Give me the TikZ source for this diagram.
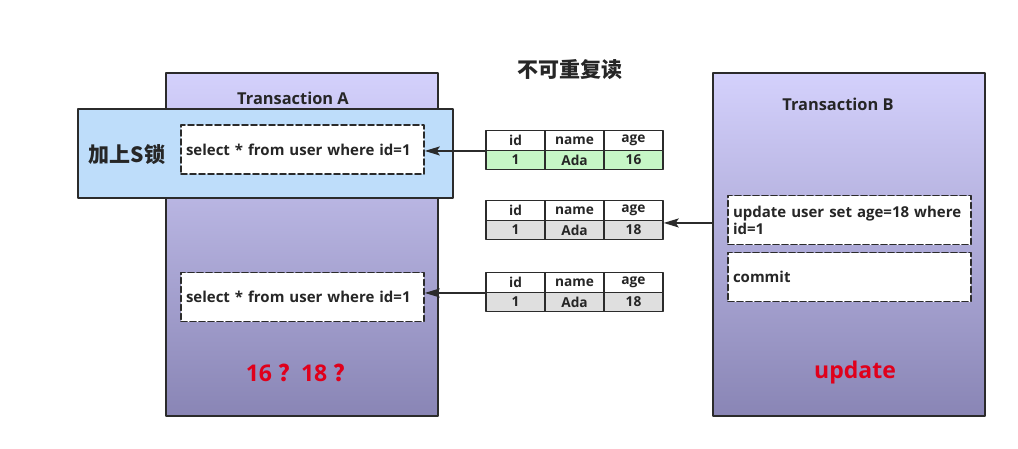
\documentclass[tikz,border=0pt]{standalone}
\usepackage{fontspec}
\setmainfont{Open Sans}
\newfontfamily\cjk{Noto Sans CJK SC}
\usetikzlibrary{calc,arrows.meta}
\definecolor{ink}{HTML}{262626}
\definecolor{edge}{HTML}{2B2B2B}
\definecolor{txtop}{HTML}{D4D1FC}
\definecolor{txbot}{HTML}{8985B5}
\definecolor{lockblue}{HTML}{BEDDFA}
\definecolor{rowgreen}{HTML}{C6F6C6}
\definecolor{rowgray}{HTML}{DFDFDF}
\definecolor{alert}{HTML}{E0001B}
\tikzset{
  every picture/.style={line cap=round, line join=round},
  txbox/.style={draw=edge, line width=1.6pt, top color=txtop, bottom color=txbot,
    minimum width=272pt, minimum height=343pt, inner sep=0pt},
  lockbox/.style={draw=edge, line width=1.5pt, fill=lockblue,
    minimum width=375pt, minimum height=89pt, inner sep=0pt},
  sqlbox/.style={draw=edge, dashed, dash pattern=on 6pt off 3pt, line width=1.6pt, fill=white,
    minimum width=243pt, minimum height=49pt, inner sep=5pt, text width=233pt, align=left,
    text=ink, font=\fontsize{15}{17}\selectfont\bfseries},
  cell/.style={draw=edge, line width=1.4pt, fill=white, minimum width=59pt, minimum height=19.5pt,
    inner sep=0pt, text=ink, font=\fontsize{13.7}{14}\selectfont\bfseries},
  lab/.style={text=ink, font=\fontsize{16.4}{18}\selectfont\bfseries},
  big/.style={text=ink, font=\fontsize{21}{24}\selectfont\cjk\bfseries},
  hot/.style={text=alert, font=\fontsize{23}{26}\selectfont\bfseries},
  conn/.style={draw=edge, line width=1.6pt, -{Stealth[length=15pt,width=9pt,inset=3pt]}}
}
% one small table: name, y of header, age, row colour
\newcommand{\DataTable}[4]{%
  \foreach \hd/\val [count=\i] in {id/1,name/Ada,age/#3} {
    \node[cell] (#1h\i) at ({456.5+59*\i},#2) {\hd};
    \node[cell, fill=#4] (#1r\i) at ({456.5+59*\i},#2+19.5) {\val};
  }
}

\begin{document}
\begin{tikzpicture}[x=1pt, y=-1pt]
  \useasboundingbox (0,0) rectangle (1018,448);

  % title
  \node[big] (title) at (570,70) {不可重复读};

  % transaction A
  \node[txbox] (txA) at (302,244.5) {};
  \node[lab] (txAlab) at (293,98) {Transaction A};
  \node[lockbox] (lock) at (265.5,153.5) {};
  \node[big] (locklab) at (127,155) {加上S锁};
  \node[sqlbox] (selA1) at (302.5,149.5) {select * from user where id=1};
  \node[sqlbox] (selA2) at (302.5,297) {select * from user where id=1};
  \node[hot] (guess) at (301,373) {16 {\cjk ？}18 {\cjk ？}};

  % transaction B
  \node[txbox] (txB) at (849,244.5) {};
  \node[lab] (txBlab) at (838,104) {Transaction B};
  \node[sqlbox] (upd) at (849.5,220) {update user set age=18 where\\id=1};
  \node[sqlbox] (com) at (849.5,277) {commit};
  \node[hot] (updlab) at (855,373) {update};

  % data rows
  \DataTable{ta}{140.5}{16}{rowgreen}
  \DataTable{tb}{210.5}{18}{rowgray}
  \DataTable{tc}{282.5}{18}{rowgray}

  % reads and write
  \draw[conn] (tah1.south west) -- (tah1.south west -| selA1.east);
  \draw[conn] (txB.west |- tbh3.south east) ++(0,2) -- ($(tbh3.south east)+(0,2)$);
  \draw[conn] (tch1.south west) -- (tch1.south west -| selA2.east);
\end{tikzpicture}
\end{document}
